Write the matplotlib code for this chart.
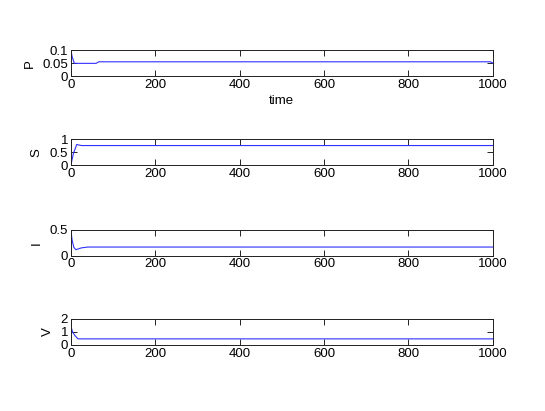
import matplotlib
matplotlib.use('Agg')
import matplotlib.pyplot as plt

# values
t_P = [0, 3, 8, 12, 60, 66, 995, 1000]
P = [0.1, 0.075, 0.05, 0.049, 0.049, 0.055, 0.055, 0.05]

t_S = [0, 6, 14, 25, 1000]
S = [0.0, 0.45, 0.8, 0.76, 0.76]

t_I = [0, 3, 7, 12, 25, 40, 1000]
I = [0.5, 0.3, 0.16, 0.115, 0.15, 0.166, 0.166]

t_V = [0, 4, 10, 17, 1000]
V = [1.45, 1.0, 0.7, 0.46, 0.46]

xticks = [0, 200, 400, 600, 800, 1000]
panels = [
    ('P', t_P, P, [0, 0.1], [0, 0.05, 0.1], ['0', '0.05', '0.1']),
    ('S', t_S, S, [0, 1], [0, 0.5, 1], ['0', '0.5', '1']),
    ('I', t_I, I, [0, 0.5], [0, 0.5], ['0', '0.5']),
    ('V', t_V, V, [0, 2], [0, 1, 2], ['0', '1', '2']),
]

plt.rcParams['font.family'] = ['Liberation Sans', 'DejaVu Sans']
plt.rcParams['font.size'] = 9.5

fig = plt.figure(figsize=(5.45, 4.11), dpi=100)
bottoms = [0.815, 0.598, 0.378, 0.161]
for k, (name, t, y, ylim, yt, ytl) in enumerate(panels):
    ax = fig.add_axes([0.130, bottoms[k], 0.774, 0.063])
    ax.plot(t, y, color='#3030ff', linewidth=0.8)
    ax.set_xlim(0, 1000)
    ax.set_ylim(ylim)
    ax.set_xticks(xticks)
    ax.set_xticklabels([str(v) for v in xticks])
    ax.set_yticks(yt)
    ax.set_yticklabels(ytl)
    ax.set_ylabel(name, labelpad=5)
    ax.tick_params(direction='in', top=True, right=True, length=4,
                   width=0.6, pad=2)
    for s in ax.spines.values():
        s.set_linewidth(0.7)
        s.set_color('#202020')
    if k == 0:
        ax.set_xlabel('time', labelpad=3)

fig.savefig('out.png', dpi=100)
